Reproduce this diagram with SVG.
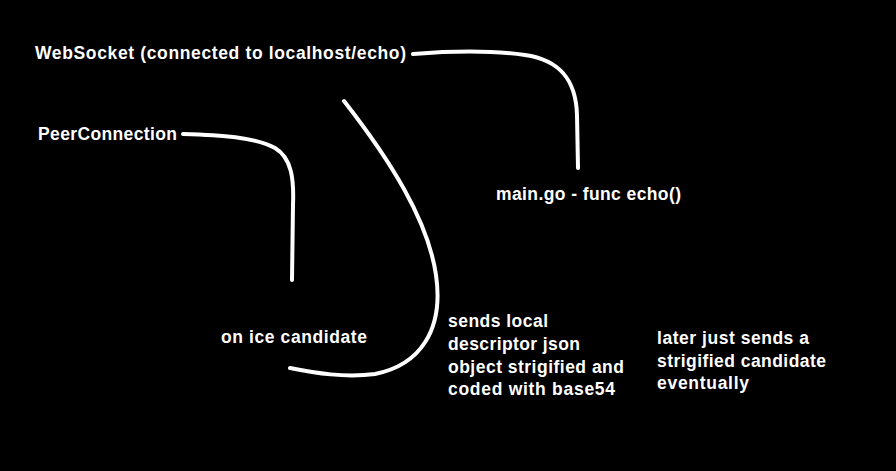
<svg xmlns="http://www.w3.org/2000/svg" width="896" height="471" viewBox="0 0 896 471">
<style>
text{font-family:"Liberation Sans",Arial,sans-serif;font-weight:bold;font-size:17.5px;fill:#fff}
.c{fill:none;stroke:#fff;stroke-width:4;stroke-linecap:round}
</style>
<rect width="896" height="471" fill="#000"/>
<g id="connectors">
<path class="c" d="M413,54 C450,51 490,50 525,55 C560,60 576,80 577,115 L578,168"/>
<path class="c" d="M183,134 C220,135 255,137 275,148 C292,158 294,180 293,205 L292,280"/>
<path class="c" d="M344,101 C390,160 428,220 436,275 C444,330 420,365 375,374 C345,378 315,373 290,368"/>
</g>
<g id="websocket"><text x="35" y="59" textLength="371" lengthAdjust="spacing">WebSocket (connected to localhost/echo)</text></g>
<g id="peerconnection"><text x="38" y="140" textLength="139" lengthAdjust="spacing">PeerConnection</text></g>
<g id="maingo"><text x="496" y="200" textLength="185" lengthAdjust="spacing">main.go - func echo()</text></g>
<g id="onice"><text x="221" y="343" textLength="146" lengthAdjust="spacing">on ice candidate</text></g>
<g id="sends"><text x="448" y="327" textLength="100" lengthAdjust="spacing">sends local</text><text x="448" y="350" textLength="132" lengthAdjust="spacing">descriptor json</text><text x="448" y="373" textLength="176" lengthAdjust="spacing">object strigified and</text><text x="448" y="395" textLength="167" lengthAdjust="spacing">coded with base54</text></g>
<g id="later"><text x="657" y="344" textLength="152" lengthAdjust="spacing">later just sends a</text><text x="657" y="367" textLength="169" lengthAdjust="spacing">strigified candidate</text><text x="657" y="389" textLength="92" lengthAdjust="spacing">eventually</text></g>
</svg>
